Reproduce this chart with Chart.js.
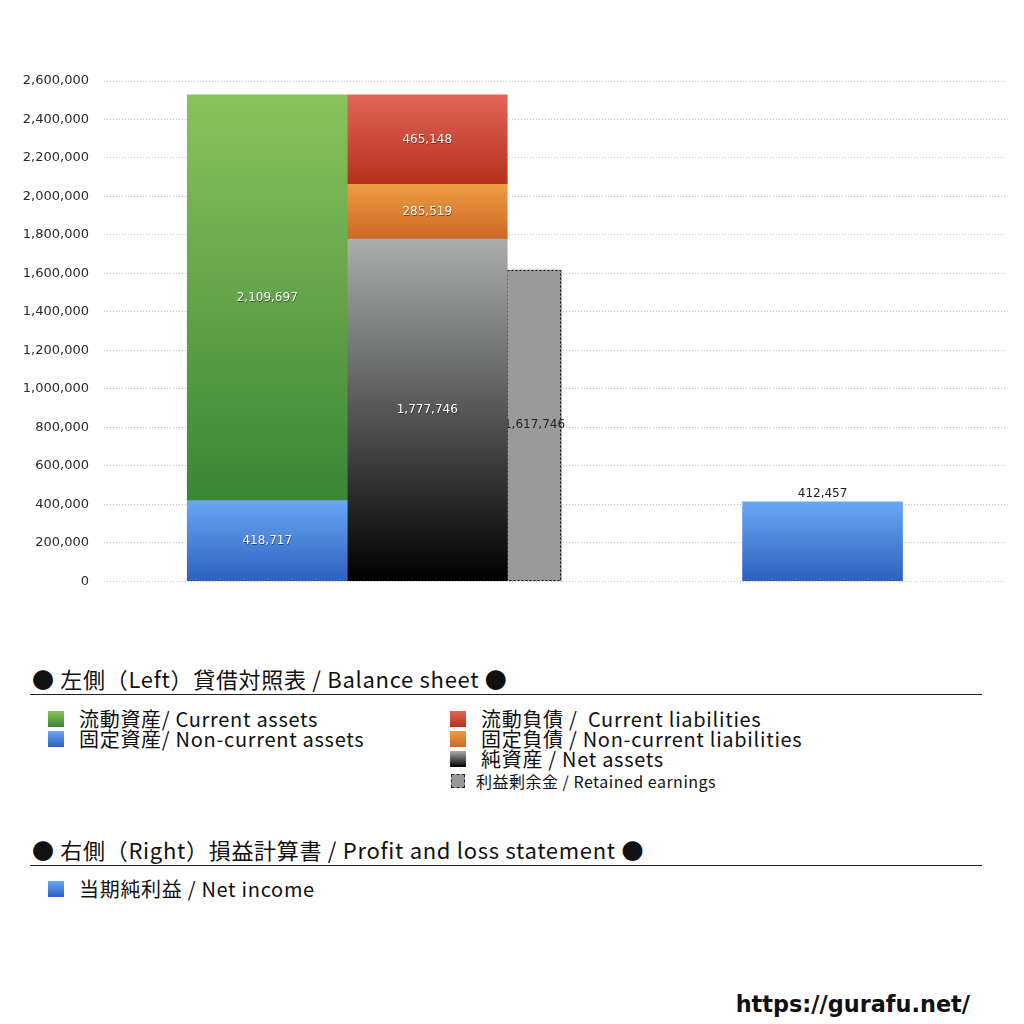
<!DOCTYPE html>
<html lang="ja">
<head>
<meta charset="utf-8">
<script src="https://cdn.jsdelivr.net/npm/chart.js@4.4.1/dist/chart.umd.min.js"></script>
<style>
  html, body { margin: 0; padding: 0; background: #fff; }
  body { width: 1024px; height: 1024px; position: relative; overflow: hidden;
         font-family: "Noto Sans CJK JP", "Noto Sans", sans-serif; color: #111; }
  #chartBox { position: absolute; left: 0; top: 0; width: 1024px; height: 604px; }
  .head { position: absolute; left: 32px; font-size: 22px; letter-spacing: 0.7px; white-space: nowrap; line-height: 26px; }
  .rule { position: absolute; left: 30px; width: 952px; height: 0; border-top: 1px solid #222; }
  .item { position: absolute; font-size: 20px; letter-spacing: 0.7px; line-height: 20px; white-space: nowrap; }
  .item i { position: absolute; left: -31px; top: 2px; width: 16px; height: 16px; }
  .small { font-size: 16px; letter-spacing: 0.5px; }
  .small i { left: -25px; top: 3px; width: 12px; height: 12px; background: #999; border: 1px dashed #222; }
  #site { position: absolute; right: 54px; top: 991px; font-family: "DejaVu Sans", sans-serif;
          font-weight: bold; font-size: 22.4px; }
</style>
</head>
<body>
<div id="chartBox"><canvas id="bsChart" width="1024" height="604"></canvas></div>

<div class="head" style="top:665px">● 左側（Left）貸借対照表 / Balance sheet ●</div>
<div class="rule" style="top:694px"></div>
<div class="item" style="left:79px; top:709px"><i id="sw0"></i>流動資産/ Current assets</div>
<div class="item" style="left:79px; top:729px"><i id="sw1"></i>固定資産/ Non-current assets</div>
<div class="item" style="left:481px; top:709px"><i id="sw2"></i>流動負債 /&nbsp; Current liabilities</div>
<div class="item" style="left:481px; top:729px"><i id="sw3"></i>固定負債 / Non-current liabilities</div>
<div class="item" style="left:481px; top:749px"><i id="sw4"></i>純資産 / Net assets</div>
<div class="item small" style="left:476px; top:771px"><i></i>利益剰余金 / Retained earnings</div>

<div class="head" style="top:836px">● 右側（Right）損益計算書 / Profit and loss statement ●</div>
<div class="rule" style="top:865px"></div>
<div class="item" style="left:79px; top:879px"><i id="sw5"></i>当期純利益 / Net income</div>

<div id="site">https://gurafu.net/</div>

<script>
// 値 (円)
const currentAssets = [2109697];
const nonCurrentAssets = [418717];
const currentLiabilities = [465148];
const nonCurrentLiabilities = [285519];
const netAssets = [1777746];
const retainedEarnings = [1617746];
const netIncome = [412457];

const yTicksMax = 2600000;
const yTicksStep = 200000;

// 横位置 (棒の幅を1とした単位)
const slot = { min: 0, max: 5.63, assets: 1.02, liab: 2.02, retained: 2.69, income: 4.49 };

const grads = {
    green:  ['#8ac35b', '#3a8636'],
    blue:   ['#69a7f3', '#2c61bf'],
    red:    ['#e0665a', '#b6301b'],
    orange: ['#ee9d43', '#cd6724'],
    black:  ['#abadac', '#000000']
};

// 凡例の色見本
[['sw0','green'],['sw1','blue'],['sw2','red'],['sw3','orange'],['sw4','black'],['sw5','blue']].forEach(function(p) {
    document.getElementById(p[0]).style.background =
        'linear-gradient(' + grads[p[1]][0] + ',' + grads[p[1]][1] + ')';
});

function pts(x, arr) {
    return arr.map(function(v) { return { x: x, y: v }; });
}

// 積み上げの中での範囲から縦グラデーションを作る
function barGradient(name) {
    return function(context) {
        const chart = context.chart;
        const area = chart.chartArea;
        const c = grads[name];
        if (!area) return c[1];
        const sets = chart.data.datasets;
        const me = sets[context.datasetIndex];
        let base = 0;
        for (let k = 0; k < context.datasetIndex; k++) {
            if (sets[k].stack === me.stack) base += sets[k].data[context.dataIndex].y;
        }
        const y = chart.scales.y;
        const top = y.getPixelForValue(base + me.data[context.dataIndex].y);
        const bottom = y.getPixelForValue(base);
        const g = chart.ctx.createLinearGradient(0, top, 0, bottom);
        g.addColorStop(0, c[0]);
        g.addColorStop(1, c[1]);
        return g;
    };
}

const wide = 160;

const datasets = [
    { label: '固定資産', data: pts(slot.assets, nonCurrentAssets), stack: 'assets', backgroundColor: barGradient('blue'), barThickness: wide, labelStyle: 'white' },
    { label: '流動資産', data: pts(slot.assets, currentAssets), stack: 'assets', backgroundColor: barGradient('green'), barThickness: wide, labelStyle: 'white' },
    { label: '純資産', data: pts(slot.liab, netAssets), stack: 'liab', backgroundColor: barGradient('black'), barThickness: wide, labelStyle: 'white' },
    { label: '固定負債', data: pts(slot.liab, nonCurrentLiabilities), stack: 'liab', backgroundColor: barGradient('orange'), barThickness: wide, labelStyle: 'white' },
    { label: '流動負債', data: pts(slot.liab, currentLiabilities), stack: 'liab', backgroundColor: barGradient('red'), barThickness: wide, labelStyle: 'white' },
    { label: '利益剰余金', data: pts(slot.retained, retainedEarnings), stack: 'retained', backgroundColor: '#9a9a9a', barThickness: 54, labelStyle: 'dark', dashed: true },
    { label: '当期純利益', data: pts(slot.income, netIncome), stack: 'income', backgroundColor: barGradient('blue'), barThickness: wide, labelStyle: 'above' }
];

// 数値ラベルと点線の枠 (各データセットの描画直後に描く)
const barLabels = {
    id: 'barLabels',
    afterDatasetDraw: function(chart, args) {
        const ctx = chart.ctx;
        const ds = chart.data.datasets[args.index];
        ctx.save();
        ctx.font = '12px "DejaVu Sans", sans-serif';
        ctx.textAlign = 'center';
        args.meta.data.forEach(function(el, i) {
            const p = el.getProps(['x', 'y', 'base', 'width'], true);
            const text = ds.data[i].y.toLocaleString('en-US');
            if (ds.dashed) {
                ctx.save();
                ctx.setLineDash([2, 2]);
                ctx.strokeStyle = '#111';
                ctx.lineWidth = 1;
                ctx.strokeRect(Math.round(p.x - p.width / 2) + 0.5, Math.round(p.y) + 0.5,
                               Math.round(p.width) - 1, Math.round(p.base - p.y) - 1);
                ctx.restore();
            }
            if (ds.labelStyle === 'above') {
                ctx.fillStyle = '#222';
                ctx.textBaseline = 'bottom';
                ctx.fillText(text, p.x, p.y - 2);
                return;
            }
            ctx.textBaseline = 'middle';
            const cy = (p.y + p.base) / 2;
            if (ds.labelStyle === 'white') {
                ctx.fillStyle = 'rgba(0,0,0,0.45)';
                ctx.fillText(text, p.x + 0.5, cy + 1);
                ctx.fillStyle = '#fff';
            } else {
                ctx.fillStyle = '#222';
            }
            ctx.fillText(text, p.x, cy);
        });
        ctx.restore();
    }
};

new Chart(document.getElementById('bsChart').getContext('2d'), {
    type: 'bar',
    data: { datasets: datasets },
    options: {
        responsive: false,
        animation: false,
        grouped: false,
        layout: { padding: { top: 81, right: 19, bottom: 11, left: 0 } },
        plugins: { legend: { display: false }, tooltip: { enabled: false } },
        scales: {
            x: { type: 'linear', display: false, offset: false, min: slot.min, max: slot.max },
            y: {
                stacked: true,
                min: 0,
                max: yTicksMax,
                afterFit: function(scale) { scale.width = 104; },
                ticks: {
                    stepSize: yTicksStep,
                    padding: 15,
                    color: '#2a2a2a',
                    font: { family: '"DejaVu Sans", sans-serif', size: 13 },
                    callback: function(v) { return v.toLocaleString('en-US'); }
                },
                grid: { color: '#c4c4c4', drawTicks: false, borderDash: [1, 2] },
                border: { display: false, dash: [1, 2] }
            }
        }
    },
    plugins: [barLabels]
});
</script>
</body>
</html>
